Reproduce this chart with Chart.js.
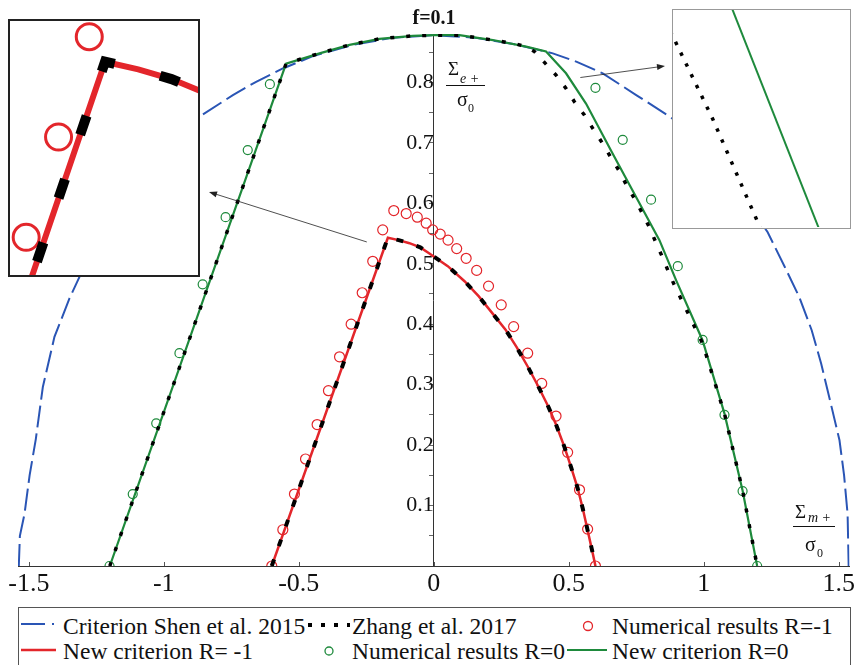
<!DOCTYPE html>
<html>
<head>
<meta charset="utf-8">
<script src="https://cdn.jsdelivr.net/npm/chart.js@4.4.0/dist/chart.umd.min.js"></script>
<style>
  body { margin: 0; background: #fff; }
  #wrap { position: relative; width: 855px; height: 665px; overflow: hidden;
          font-family: "Liberation Serif", "DejaVu Serif", "Noto Serif", serif; color: #111; }
  #main { position: absolute; left: 0; top: 0; }
  .inset { position: absolute; background: #fff; box-sizing: border-box; }
  .inset canvas { display: block; }
  #insetL { left: 8px; top: 19px; width: 192px; height: 258px; border: 2px solid #222; }
  #insetR { left: 672px; top: 9px; width: 179px; height: 220px; border: 1.5px solid #999; }
  #legendBox { position: absolute; left: 18px; top: 607px; width: 833px; height: 62px;
               border: 1px solid #555; box-sizing: border-box; background: #fff; }
  .lg { position: absolute; font-size: 23.5px; line-height: 26px; white-space: nowrap; }
  .sw { position: absolute; }
</style>
</head>
<body>
<div id="wrap">
  <canvas id="main" width="855" height="602"></canvas>
  <div id="insetL" class="inset"><canvas id="cL" width="188" height="254"></canvas></div>
  <div id="insetR" class="inset"><canvas id="cR" width="176" height="217"></canvas></div>

  <div id="legendBox"></div>
  <svg class="sw" style="left:21px;top:621px" width="40" height="6"><line x1="0" y1="3" x2="36" y2="3" stroke="#2a55b5" stroke-width="2" stroke-dasharray="24 7 2 7"/></svg>
  <div class="lg" style="left:63px;top:613px">Criterion Shen et al. 2015</div>
  <svg class="sw" style="left:308px;top:622px" width="42" height="6"><line x1="0" y1="3" x2="42" y2="3" stroke="#000" stroke-width="4" stroke-dasharray="4 9"/></svg>
  <div class="lg" style="left:352px;top:613px">Zhang et al. 2017</div>
  <svg class="sw" style="left:581px;top:619px" width="14" height="14"><circle cx="7" cy="7" r="4.5" fill="none" stroke="#e3262b" stroke-width="1.3"/></svg>
  <div class="lg" style="left:612px;top:613px">Numerical results R=-1</div>

  <svg class="sw" style="left:21px;top:647px" width="40" height="6"><line x1="0" y1="3" x2="35" y2="3" stroke="#e3262b" stroke-width="2.5"/></svg>
  <div class="lg" style="left:63px;top:638px">New criterion R= -1</div>
  <svg class="sw" style="left:322px;top:644px" width="14" height="14"><circle cx="7" cy="7" r="4" fill="none" stroke="#1e8a3c" stroke-width="1.3"/></svg>
  <div class="lg" style="left:352px;top:638px">Numerical results R=0</div>
  <svg class="sw" style="left:567px;top:647px" width="42" height="6"><line x1="0" y1="3" x2="40" y2="3" stroke="#1e8a3c" stroke-width="2.2"/></svg>
  <div class="lg" style="left:612px;top:638px">New criterion R=0</div>
</div>

<script>
// f = 0.1, Sigma_m+/sigma0 (x) vs Sigma_e+/sigma0 (y)

// Criterion Shen et al. 2015 (blue dashed)
var shenX = [-1.537, -1.533, -1.516, -1.497, -1.474, -1.448, -1.405, -1.349, -1.30, -1.24, -1.17, -1.09, -1.0, -0.93, -0.858,
             -0.744, -0.658, -0.559, -0.45, -0.30, -0.15, 0, 0.15, 0.30, 0.441, 0.53, 0.626, 0.75, 0.879, 0.96, 1.05, 1.15,
             1.237, 1.30, 1.354, 1.40, 1.435, 1.47, 1.503, 1.52, 1.533, 1.537];
var shenY = [0, 0.05, 0.086, 0.15, 0.21, 0.296, 0.379, 0.443, 0.49, 0.549, 0.60, 0.647, 0.69, 0.72, 0.746,
             0.779, 0.801, 0.823, 0.843, 0.862, 0.874, 0.878, 0.874, 0.863, 0.848, 0.834, 0.815, 0.779, 0.742, 0.708, 0.665, 0.61,
             0.552, 0.495, 0.445, 0.39, 0.335, 0.27, 0.208, 0.15, 0.086, 0];

// New criterion R=-1 (red line)
var newR1X = [-0.6, -0.17, -0.13, -0.09, -0.05, -0.016, 0.052, 0.114, 0.167, 0.219, 0.266, 0.307, 0.348, 0.385,
              0.422, 0.453, 0.484, 0.509, 0.533, 0.552, 0.570, 0.587, 0.599];
var newR1Y = [0, 0.543, 0.539, 0.534, 0.527, 0.517, 0.496, 0.471, 0.446, 0.417, 0.391, 0.362, 0.330, 0.299,
              0.266, 0.234, 0.197, 0.163, 0.129, 0.095, 0.059, 0.025, 0];

// Zhang et al. 2017, R=-1 (lies on the red line)
var zhangR1X = newR1X;
var zhangR1Y = newR1Y;

// New criterion R=0 (green line)
var newR0X = [-1.2, -0.547, -0.423, -0.312, -0.201, -0.078, 0, 0.095, 0.219, 0.342, 0.416, 0.49, 0.564, 0.663,
              0.75, 0.836, 0.898, 0.996, 1.077, 1.144, 1.198];
var newR0Y = [0, 0.831, 0.848, 0.862, 0.872, 0.877, 0.878, 0.878, 0.870, 0.859, 0.851, 0.815, 0.765, 0.682,
              0.61, 0.539, 0.4725, 0.373, 0.252, 0.125, 0];

// Zhang et al. 2017, R=0 (black dots)
var zhangR0X = [-1.2, -0.547, -0.423, -0.312, -0.201, -0.078, 0, 0.095, 0.219, 0.30, 0.342, 0.373, 0.41, 0.453, 0.49,
                0.521, 0.558, 0.589, 0.624, 0.653, 0.685, 0.713, 0.743, 0.772, 0.799, 0.824, 0.848, 0.870, 0.895,
                0.94, 0.996, 1.077, 1.144, 1.198];
var zhangR0Y = [0, 0.831, 0.848, 0.862, 0.872, 0.877, 0.878, 0.878, 0.870, 0.864, 0.859, 0.851, 0.833, 0.812, 0.790,
                0.768, 0.746, 0.724, 0.700, 0.678, 0.655, 0.631, 0.608, 0.584, 0.560, 0.534, 0.510, 0.486, 0.461,
                0.42, 0.368, 0.252, 0.125, 0];

// Numerical results R=-1 (red circles)
var numR1X = [-0.6, -0.559, -0.516, -0.475, -0.432, -0.390, -0.349, -0.306, -0.265, -0.226, -0.189, -0.148, -0.102,
              -0.061, -0.028, -0.004, 0.024, 0.053, 0.085, 0.12, 0.159, 0.203, 0.25, 0.296, 0.348, 0.40, 0.453,
              0.496, 0.54, 0.57, 0.599];
var numR1Y = [0, 0.060, 0.119, 0.177, 0.234, 0.290, 0.346, 0.400, 0.452, 0.504, 0.556, 0.588, 0.583,
              0.577, 0.567, 0.556, 0.549, 0.539, 0.525, 0.509, 0.489, 0.463, 0.432, 0.396, 0.352, 0.302, 0.248,
              0.188, 0.126, 0.061, 0];

// Numerical results R=0 (green circles)
var numR0X = [-1.201, -1.115, -1.028, -0.942, -0.856, -0.771, -0.689, -0.607, 0.599, 0.70, 0.805, 0.904, 0.996, 1.077, 1.144, 1.198];
var numR0Y = [0, 0.119, 0.236, 0.352, 0.466, 0.577, 0.688, 0.797, 0.791, 0.705, 0.606, 0.496, 0.374, 0.250, 0.124, 0];

var xTicks = [-1.5, -1, -0.5, 0, 0.5, 1, 1.5];
var yTickLabels = [0.1, 0.2, 0.3, 0.4, 0.5, 0.6, 0.7, 0.8];

var RED = '#e3262b', GREEN = '#1e8a3c', BLUE = '#2a55b5';
var SERIF = '"Liberation Serif", "DejaVu Serif", "Noto Serif", serif';

function pts(xs, ys) {
  return xs.map(function (x, i) { return { x: x, y: ys[i] }; });
}

function lineSet(xs, ys, color, width, dash) {
  return { data: pts(xs, ys), showLine: true, pointRadius: 0, borderColor: color,
           borderWidth: width, borderDash: dash || [], fill: false, tension: 0 };
}
function circleSet(xs, ys, color, r, bw) {
  return { data: pts(xs, ys), showLine: false, pointRadius: r, pointStyle: 'circle',
           pointBorderColor: color, pointBackgroundColor: 'rgba(0,0,0,0)', pointBorderWidth: bw };
}
function matchTick(list, v) {
  var hit = list.filter(function (t) { return Math.abs(t - v) < 1e-6; });
  return hit.length ? String(hit[0]) : '';
}

function arrow(ctx, x1, y1, x2, y2) {
  var a = Math.atan2(y2 - y1, x2 - x1);
  ctx.beginPath();
  ctx.moveTo(x1, y1);
  ctx.lineTo(x2 - 6 * Math.cos(a), y2 - 6 * Math.sin(a));
  ctx.stroke();
  ctx.beginPath();
  ctx.moveTo(x2, y2);
  ctx.lineTo(x2 - 8 * Math.cos(a) + 3 * Math.sin(a), y2 - 8 * Math.sin(a) - 3 * Math.cos(a));
  ctx.lineTo(x2 - 8 * Math.cos(a) - 3 * Math.sin(a), y2 - 8 * Math.sin(a) + 3 * Math.cos(a));
  ctx.closePath();
  ctx.fill();
}

var extras = {
  id: 'extras',
  afterDatasetsDraw: function (chart) {
    var ctx = chart.ctx, xs = chart.scales.x, ys = chart.scales.y;
    var bottom = chart.chartArea.bottom;
    ctx.save();
    // x tick marks, drawn inward
    ctx.strokeStyle = '#555';
    ctx.lineWidth = 1;
    xTicks.forEach(function (t) {
      var px = Math.round(xs.getPixelForValue(t)) + 0.5;
      ctx.beginPath();
      ctx.moveTo(px, bottom);
      ctx.lineTo(px, bottom - 4);
      ctx.stroke();
    });

    // axis quantity labels
    ctx.fillStyle = '#111';
    ctx.strokeStyle = '#111';
    ctx.textBaseline = 'alphabetic';
    ctx.textAlign = 'left';
    // Sigma_e+ / sigma_0
    ctx.font = '19px ' + SERIF;
    ctx.fillText('\u03A3', 448, 75);
    ctx.font = 'italic 14px ' + SERIF;
    ctx.fillText('e +', 460, 83);
    ctx.beginPath(); ctx.moveTo(446, 85.5); ctx.lineTo(485, 85.5); ctx.stroke();
    ctx.font = '20px ' + SERIF;
    ctx.fillText('\u03C3', 457, 106);
    ctx.font = '12px ' + SERIF;
    ctx.fillText('0', 468, 112);
    // Sigma_m+ / sigma_0
    ctx.font = '19px ' + SERIF;
    ctx.fillText('\u03A3', 795, 518);
    ctx.font = 'italic 14px ' + SERIF;
    ctx.fillText('m +', 808, 522);
    ctx.beginPath(); ctx.moveTo(793, 526.5); ctx.lineTo(835, 526.5); ctx.stroke();
    ctx.font = '20px ' + SERIF;
    ctx.fillText('\u03C3', 805, 551);
    ctx.font = '12px ' + SERIF;
    ctx.fillText('0', 817, 557);

    // arrows towards the insets
    ctx.strokeStyle = '#222';
    ctx.fillStyle = '#222';
    ctx.lineWidth = 0.8;
    arrow(ctx, xs.getPixelForValue(-0.248), ys.getPixelForValue(0.536), 209, 192);
    arrow(ctx, xs.getPixelForValue(0.543), ys.getPixelForValue(0.808), 665, 66);
    ctx.restore();
  }
};

new Chart(document.getElementById('main').getContext('2d'), {
  type: 'scatter',
  data: {
    datasets: [
      lineSet(zhangR1X, zhangR1Y, '#000', 4, [7, 14]),
      lineSet(zhangR0X, zhangR0Y, '#000', 3.5, [4, 12]),
      circleSet(numR1X, numR1Y, RED, 5, 1.2),
      circleSet(numR0X, numR0Y, GREEN, 4.5, 1.2),
      lineSet(newR1X, newR1Y, RED, 2.5),
      lineSet(newR0X, newR0Y, GREEN, 2.2),
      lineSet(shenX, shenY, BLUE, 2, [22, 6])
    ]
  },
  options: {
    responsive: false,
    animation: false,
    events: [],
    layout: { autoPadding: false, padding: { left: 18, right: 5, top: 0, bottom: 0 } },
    plugins: {
      legend: { display: false },
      tooltip: { enabled: false },
      title: {
        display: true, text: 'f=0.1', color: '#111',
        font: { family: SERIF, size: 20, weight: 'bold' },
        padding: { top: 7, bottom: 3 }
      }
    },
    scales: {
      x: {
        type: 'linear', position: 'bottom', min: -1.54, max: 1.54,
        border: { display: true, color: '#333', width: 1 },
        grid: { display: false, drawTicks: false },
        ticks: {
          stepSize: 0.5, includeBounds: false, autoSkip: false, maxRotation: 0, padding: 0,
          color: '#111', font: { family: SERIF, size: 26, lineHeight: '36px' },
          callback: function (v) { return matchTick(xTicks, v); }
        }
      },
      y: {
        type: 'linear', position: { x: 0 }, min: 0, max: 0.88,
        border: { display: true, color: '#333', width: 1 },
        grid: { display: true, drawOnChartArea: false, drawTicks: true, tickLength: 4, color: '#666' },
        ticks: {
          stepSize: 0.05, includeBounds: false, autoSkip: false, padding: 10,
          color: '#111', font: { family: SERIF, size: 22 },
          callback: function (v) { return matchTick(yTickLabels, v); }
        }
      }
    }
  },
  plugins: [extras]
});

function insetOptions(x0, x1, y0, y1) {
  return {
    responsive: false, animation: false, events: [],
    layout: { autoPadding: false, padding: 0 },
    plugins: { legend: { display: false }, tooltip: { enabled: false } },
    scales: {
      x: { type: 'linear', display: false, min: x0, max: x1 },
      y: { type: 'linear', display: false, min: y0, max: y1 }
    }
  };
}

// left inset: zoom on the corner of the R=-1 curve
var zoomL = lineSet(zhangR1X, zhangR1Y, '#000', 10, [20, 47]);
zoomL.borderDashOffset = 42;
new Chart(document.getElementById('cL').getContext('2d'), {
  type: 'scatter',
  data: {
    datasets: [
      zoomL,
      lineSet(newR1X, newR1Y, RED, 6),
      circleSet(numR1X, numR1Y, RED, 13, 3)
    ]
  },
  options: insetOptions(-0.2845, -0.058, 0.4325, 0.5641)
});

// right inset: zoom on the R=0 curves near the upper right
new Chart(document.getElementById('cR').getContext('2d'), {
  type: 'scatter',
  data: {
    datasets: [
      lineSet(zhangR0X, zhangR0Y, '#000', 3.5, [3.5, 8.5]),
      lineSet(newR0X, newR0Y, GREEN, 2)
    ]
  },
  options: insetOptions(0.613, 0.662, 0.690, 0.710)
});
</script>
</body>
</html>
